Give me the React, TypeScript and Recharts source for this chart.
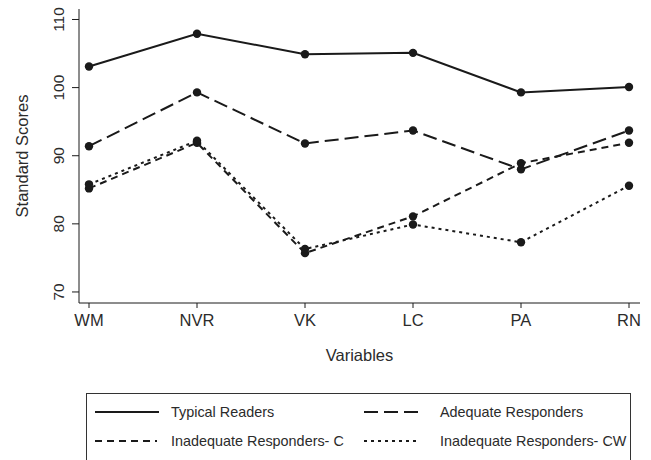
import { LineChart, Line, XAxis, YAxis } from "recharts";

const variables = ["WM", "NVR", "VK", "LC", "PA", "RN"];
const typicalReaders = [103.1, 107.9, 104.9, 105.1, 99.3, 100.1];
const adequateResponders = [91.4, 99.3, 91.8, 93.7, 88.0, 93.7];
const inadequateC = [85.2, 91.9, 75.7, 81.1, 88.9, 91.9];
const inadequateCW = [85.8, 92.2, 76.3, 79.9, 77.3, 85.6];
const yTicks = [70, 80, 90, 100, 110];

const INK = "#1a1a1a";
const TEXT = "#2b2b2b";
const FONT = "'Liberation Sans', Arial, sans-serif";

const series = [
  { key: "typical", name: "Typical Readers", values: typicalReaders, dash: undefined },
  { key: "adequate", name: "Adequate Responders", values: adequateResponders, dash: "14 6" },
  { key: "inadC", name: "Inadequate Responders- C", values: inadequateC, dash: "7 5" },
  { key: "inadCW", name: "Inadequate Responders- CW", values: inadequateCW, dash: "3 4" },
];

const data = variables.map((v, i) => {
  const row: Record<string, string | number> = { variable: v };
  series.forEach((s) => {
    row[s.key] = s.values[i];
  });
  return row;
});

const YTick = ({ x, y, payload }: any) => {
  const cx = x - 11;
  return (
    <text
      x={cx}
      y={y}
      transform={`rotate(-90 ${cx} ${y})`}
      textAnchor="middle"
      dominantBaseline="central"
      fill={TEXT}
      fontSize={15.5}
      fontFamily={FONT}
    >
      {payload.value}
    </text>
  );
};

const YLabel = ({ viewBox }: any) => {
  const cx = viewBox.x + 22;
  const cy = viewBox.y + viewBox.height / 2;
  return (
    <text
      x={cx}
      y={cy}
      transform={`rotate(-90 ${cx} ${cy})`}
      textAnchor="middle"
      dominantBaseline="central"
      fill={TEXT}
      fontSize={16.5}
      fontFamily={FONT}
    >
      Standard Scores
    </text>
  );
};

export default function App() {
  return (
    <div style={{ position: "absolute", left: 0, top: 0, width: 651, height: 460, background: "#fff", overflow: "hidden" }}>
      <LineChart
        width={651}
        height={460}
        data={data}
        margin={{ top: 9, right: 11, bottom: 117, left: 0 }}
      >
        <XAxis
          dataKey="variable"
          padding={{ left: 10, right: 11 }}
          tickSize={5}
          tickMargin={6}
          height={40}
          stroke={INK}
          tick={{ fill: TEXT, fontSize: 16.5, fontFamily: FONT }}
          tickLine={{ stroke: INK }}
          axisLine={{ stroke: INK, strokeWidth: 1 }}
          label={{ value: "Variables", position: "bottom", offset: 6, fill: TEXT, fontSize: 16.5, fontFamily: FONT }}
        />
        <XAxis xAxisId="top" dataKey="variable" orientation="top" height={0} tick={false} tickLine={false} axisLine={{ stroke: INK }} />
        <YAxis
          width={79}
          domain={[68.38, 111.54]}
          ticks={yTicks}
          allowDataOverflow
          tickSize={7}
          tickMargin={2}
          tick={<YTick />}
          tickLine={{ stroke: INK }}
          axisLine={{ stroke: INK }}
          label={<YLabel />}
        />
        <YAxis yAxisId="right" orientation="right" width={0} tick={false} tickLine={false} axisLine={{ stroke: INK }} />
        {series.map((s) => (
          <Line
            key={s.key}
            dataKey={s.key}
            name={s.name}
            stroke={INK}
            strokeWidth={2}
            strokeDasharray={s.dash}
            dot={{ r: 4.2, fill: INK, stroke: "none" }}
            isAnimationActive={false}
          />
        ))}
      </LineChart>
      <div
        style={{
          position: "absolute",
          left: 86,
          top: 393,
          width: 545,
          height: 90,
          border: "1px solid #333",
          boxSizing: "border-box",
          fontFamily: FONT,
          fontSize: 14.4,
          color: TEXT,
        }}
      >
        {series.map((s, i) => {
          const col = i % 2;
          const row = Math.floor(i / 2);
          const left = col === 0 ? 7 : 276;
          const lineW = col === 0 ? (row === 0 ? 64 : 62) : 55;
          return (
            <div
              key={s.key}
              style={{
                position: "absolute",
                left,
                top: 8 + row * 29,
                height: 20,
                display: "flex",
                alignItems: "center",
                whiteSpace: "nowrap",
              }}
            >
              <svg width={77} height={20} style={{ display: "block" }}>
                <line x1={1} x2={lineW + 1} y1={10} y2={10} stroke={INK} strokeWidth={2} strokeDasharray={s.dash} />
              </svg>
              <span>{s.name}</span>
            </div>
          );
        })}
      </div>
    </div>
  );
}
